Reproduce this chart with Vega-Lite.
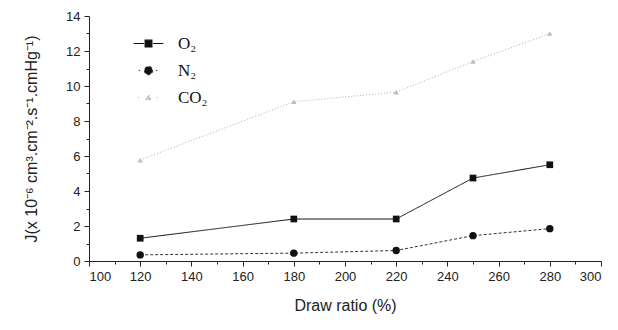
{
  "$schema": "https://vega.github.io/schema/vega-lite/v6.json",
  "autosize": {"type": "none"},
  "width": 512,
  "height": 245,
  "padding": {"left": 89, "top": 16, "right": 17, "bottom": 69},
  "background": "white",
  "config": {
    "view": {"stroke": null},
    "axis": {"grid": false, "domainColor": "#222", "tickColor": "#222", "labelColor": "#222", "titleColor": "#222", "labelFont": "Liberation Sans", "titleFont": "Liberation Sans", "labelFontSize": 13, "titleFontWeight": "normal", "labelOverlap": false}
  },
  "data": {"values": [
    {"series": "O₂", "x": 120, "y": 1.3},
    {"series": "O₂", "x": 180, "y": 2.4},
    {"series": "O₂", "x": 220, "y": 2.4},
    {"series": "O₂", "x": 250, "y": 4.74},
    {"series": "O₂", "x": 280, "y": 5.5},
    {"series": "N₂", "x": 120, "y": 0.35},
    {"series": "N₂", "x": 180, "y": 0.45},
    {"series": "N₂", "x": 220, "y": 0.6},
    {"series": "N₂", "x": 250, "y": 1.45},
    {"series": "N₂", "x": 280, "y": 1.85},
    {"series": "CO₂", "x": 120, "y": 5.77},
    {"series": "CO₂", "x": 180, "y": 9.1},
    {"series": "CO₂", "x": 220, "y": 9.65},
    {"series": "CO₂", "x": 250, "y": 11.4},
    {"series": "CO₂", "x": 280, "y": 13.0}
  ]},
  "resolve": {"axis": {"x": "independent", "y": "independent"}},
  "layer": [
    {
      "mark": {"type": "line", "strokeWidth": 1},
      "encoding": {
        "x": {"field": "x", "type": "quantitative", "scale": {"domain": [100, 300], "nice": false},
              "axis": {"orient": "bottom", "values": [100,120,140,160,180,200,220,240,260,280,300], "tickSize": 5, "labelPadding": 4, "title": "Draw ratio (%)", "titleFontSize": 16, "titlePadding": 14}},
        "y": {"field": "y", "type": "quantitative", "scale": {"domain": [0, 14], "nice": false},
              "axis": {"orient": "left", "values": [0,2,4,6,8,10,12,14], "tickSize": 5, "labelPadding": 4, "title": "J(x 10⁻⁶ cm³.cm⁻².s⁻¹.cmHg⁻¹)", "titleFontSize": 16, "titlePadding": 26}},
        "color": {"field": "series", "type": "nominal", "scale": {"domain": ["O₂", "N₂", "CO₂"], "range": ["#111111", "#333333", "#b0b0b0"]},
          "legend": {
            "orient": "none", "legendX": 45, "legendY": 13, "title": null, "padding": 0,
            "symbolSize": 729, "labelFont": "Liberation Serif", "labelFontSize": 17, "labelColor": "#111", "labelOffset": 15, "rowPadding": 4,
            "encode": {"symbols": {"update": {
              "shape": {"signal": "datum.value === 'O₂' ? 'M-1.1,0H-0.33M0.33,0H1.1M-0.25,-0.25H0.25V0.25H-0.25Z' : datum.value === 'N₂' ? 'M-0.72,0h0.1M0.55,0h0.1M-0.3,0A0.3,0.3 0 1,0 0.3,0A0.3,0.3 0 1,0 -0.3,0Z' : 'M-0.78,0h0.09M0.6,0h0.09M-0.2,0.16L0,-0.19L0.2,0.16Z'"},
              "fill": {"signal": "datum.value === 'CO₂' ? '#c8c8c8' : '#111111'"},
              "stroke": {"signal": "datum.value === 'CO₂' ? '#c0c0c0' : '#111111'"},
              "strokeWidth": {"value": 1.2},
              "strokeDash": {"value": [1, 0]},
              "opacity": {"value": 1}
            }}}
          }},
        "strokeDash": {"field": "series", "type": "nominal", "scale": {"domain": ["O₂", "N₂", "CO₂"], "range": [[1, 0], [3, 2], [1, 2]]}, "legend": null}
      }
    },
    {
      "transform": [{"filter": "datum.series === 'O₂'"}],
      "mark": {"type": "point", "shape": "square", "filled": true, "opacity": 1, "color": "#111111", "size": 45},
      "encoding": {
        "x": {"field": "x", "type": "quantitative", "axis": null},
        "y": {"field": "y", "type": "quantitative", "axis": null}
      }
    },
    {
      "transform": [{"filter": "datum.series === 'N₂'"}],
      "mark": {"type": "point", "shape": "circle", "filled": true, "opacity": 1, "color": "#111111", "size": 55},
      "encoding": {
        "x": {"field": "x", "type": "quantitative", "axis": null},
        "y": {"field": "y", "type": "quantitative", "axis": null}
      }
    },
    {
      "transform": [{"filter": "datum.series === 'CO₂'"}],
      "mark": {"type": "point", "shape": "triangle-up", "filled": true, "opacity": 1, "color": "#bdbdbd", "size": 30},
      "encoding": {
        "x": {"field": "x", "type": "quantitative", "axis": null},
        "y": {"field": "y", "type": "quantitative", "axis": null}
      }
    },
    {
      "mark": {"type": "point", "opacity": 0},
      "encoding": {
        "x": {"field": "x", "type": "quantitative", "axis": {"orient": "bottom", "values": [110,130,150,170,190,210,230,250,270,290], "tickSize": 3, "labels": false, "domain": false, "title": null}},
        "y": {"field": "y", "type": "quantitative", "axis": {"orient": "left", "values": [1,3,5,7,9,11,13], "tickSize": 3, "labels": false, "domain": false, "title": null}}
      }
    }
  ]
}
